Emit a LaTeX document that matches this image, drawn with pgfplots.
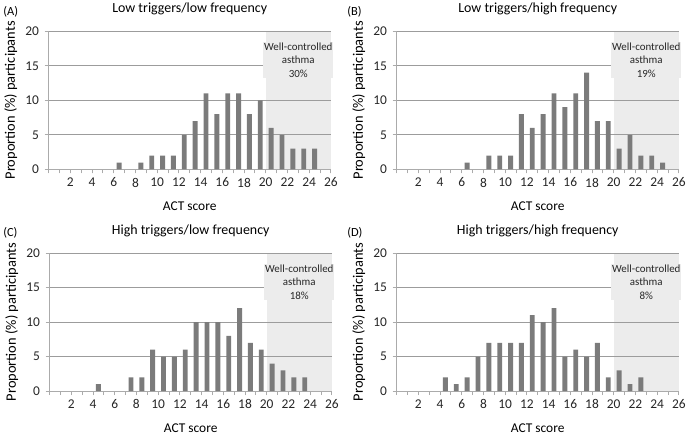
\documentclass[border=0pt]{standalone}
\usepackage{pgfplots}
\pgfplotsset{compat=1.18}
\usepackage{fontspec}
\setmainfont{Carlito}
\definecolor{barc}{HTML}{7B7B7B}
\definecolor{shade}{HTML}{ECECEC}
\definecolor{gridc}{HTML}{9C9C9C}
\definecolor{axc}{HTML}{ABABAB}
\pgfplotsset{
  actpanel/.style={
    set layers=standard,
    scale only axis, anchor=south west,
    width=284pt, height=139pt,
    xmin=0, xmax=26, ymin=0, ymax=20,
    axis x line=bottom, axis y line=left,
    axis line style={-, draw=axc, line width=0.8pt},
    xtick={2,4,...,26}, minor xtick={0,...,26},
    ytick={0,5,10,15,20},
    tick align=outside,
    major tick length=4pt, minor tick length=4pt,
    tick style={draw=axc, line width=0.8pt},
    ymajorgrids, major grid style={draw=gridc, line width=0.8pt},
    xmajorgrids=false,
    /pgf/number format/assume math mode=true,
    ticklabel style={font=\fontsize{13.5}{15}\selectfont, text=black!85},
    xticklabel style={yshift=-1pt},
    yticklabel style={xshift=-2pt},
    ylabel={Proportion (\%) participants},
    ylabel style={font=\fontsize{14.5}{16}\selectfont, at={(axis description cs:0,0.5)}, anchor=center, yshift=38pt},
    xlabel={ACT score},
    xlabel style={font=\fontsize{13.5}{15}\selectfont, at={(axis description cs:0.5,0)}, anchor=center, yshift=-37pt},
    title style={font=\fontsize{14}{16}\selectfont, at={(axis description cs:0.5,1)}, anchor=center, yshift=16pt},
    clip=false,
  },
  actbar/.style={ybar, bar width=0.45, fill=barc, draw=none, bar shift=0pt},
}
\newcommand{\shading}[1]{%
  \addplot[fill=shade, draw=none, on layer=axis background] coordinates {(20,0)(26,0)(26,20)(20,20)} -- cycle;
  \node[fill=shade, inner sep=1pt, align=center, font=\fontsize{11}{13.5}\selectfont, text=black!85] at (axis cs:23,15.8) {Well-controlled\\asthma\\#1\%};
}
\begin{document}
\begin{tikzpicture}
% (A)
\begin{axis}[actpanel, at={(48pt,268pt)}, title={Low triggers/low frequency}]
\shading{30}
\addplot[actbar] coordinates {(6.5,1)(8.5,1)(9.5,2)(10.5,2)(11.5,2)(12.5,5)(13.5,7)(14.5,11)(15.5,8)(16.5,11)(17.5,11)(18.5,8)(19.5,10)(20.5,6)(21.5,5)(22.5,3)(23.5,3)(24.5,3)};
\end{axis}
\node[anchor=west, font=\fontsize{12.5}{14}\selectfont] at (-1pt,427pt) {(A)};
% (B)
\begin{axis}[actpanel, at={(398pt,268pt)}, title={Low triggers/high frequency}]
\shading{19}
\addplot[actbar] coordinates {(6.5,1)(8.5,2)(9.5,2)(10.5,2)(11.5,8)(12.5,6)(13.5,8)(14.5,11)(15.5,9)(16.5,11)(17.5,14)(18.5,7)(19.5,7)(20.5,3)(21.5,5)(22.5,2)(23.5,2)(24.5,1)};
\end{axis}
\node[anchor=west, font=\fontsize{12.5}{14}\selectfont] at (345pt,427pt) {(B)};
% (C)
\begin{axis}[actpanel, at={(49pt,45pt)}, title={High triggers/low frequency}]
\shading{18}
\addplot[actbar] coordinates {(4.5,1)(7.5,2)(8.5,2)(9.5,6)(10.5,5)(11.5,5)(12.5,6)(13.5,10)(14.5,10)(15.5,10)(16.5,8)(17.5,12)(18.5,7)(19.5,6)(20.5,4)(21.5,3)(22.5,2)(23.5,2)};
\end{axis}
\node[anchor=west, font=\fontsize{12.5}{14}\selectfont] at (-1pt,204pt) {(C)};
% (D)
\begin{axis}[actpanel, at={(398pt,45pt)}, title={High triggers/high frequency}]
\shading{8}
\addplot[actbar] coordinates {(4.5,2)(5.5,1)(6.5,2)(7.5,5)(8.5,7)(9.5,7)(10.5,7)(11.5,7)(12.5,11)(13.5,10)(14.5,12)(15.5,5)(16.5,6)(17.5,5)(18.5,7)(19.5,2)(20.5,3)(21.5,1)(22.5,2)};
\end{axis}
\node[anchor=west, font=\fontsize{12.5}{14}\selectfont] at (345pt,204pt) {(D)};
\path (0pt,0pt) rectangle (689pt,434pt);
\end{tikzpicture}
\end{document}
